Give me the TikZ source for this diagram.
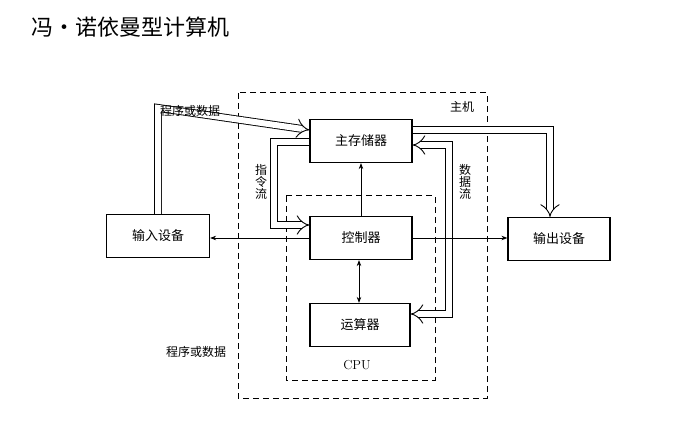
\documentclass[tikz,border=0pt]{standalone}
\usepackage{fontspec}
\newfontfamily\cjk{Noto Sans CJK SC}
\usetikzlibrary{arrows.meta}
\tikzset{
  box/.style={draw,line width=1.2pt,minimum width=102pt,minimum height=43pt,font=\cjk\fontsize{13}{13}\selectfont},
  flow/.style={draw,line width=0.9pt,double distance=6pt,-{Implies[length=6pt]}},
  thin/.style={line width=0.8pt,-{Stealth[length=6pt]}},
  frame/.style={dashed,line width=1pt,dash pattern=on 6pt off 4pt},
  lbl/.style={font=\cjk\fontsize{12}{12}\selectfont}
}
\begin{document}
\begin{tikzpicture}[x=1pt,y=-1pt]
\useasboundingbox (0,0) rectangle (696,438);

\node[anchor=west,font=\cjk\fontsize{22}{22}\selectfont] (title) at (28,27) {冯·诺依曼型计算机};

\draw[frame] (238,93) rectangle (487,398);
\draw[frame] (286,196) rectangle (435,380);
\node[lbl] (host) at (462,107) {主机};
\node[font=\fontsize{13}{13}\selectfont] (cpu) at (357,365) {CPU};

\node[box] (mem) at (361,141) {主存储器};
\node[box] (ctrl) at (361,238) {控制器};
\node[box,minimum width=100pt] (alu) at (360,325) {运算器};
\node[box,minimum width=103pt] (inp) at (158,236) {输入设备};
\node[box] (outp) at (559,239) {输出设备};

% program or data
\draw[flow] (inp.north) -- ++(0,-106) -- (mem.west |- 0,130);
\draw[flow] (mem.east |- 0,130) -- (550,130) -- (outp.north -| 550,0);
\node[lbl,anchor=south] (pd1) at (190,120) {程序或数据};
\node[lbl] (pd2) at (196,352) {程序或数据};

% instruction flow
\draw[flow] (mem.west |- 0,142) -- (274,142) -- (274,225) -- (ctrl.west |- 0,225);
\node[lbl,align=center] (ins) at (261,182) {指\\令\\流};

% data flow
\draw[flow,{Implies[length=6pt]}-{Implies[length=6pt]}] (mem.east |- 0,145) -- (449,145) -- (449,314) -- (alu.east |- 0,314);
\node[lbl,align=center] (dat) at (465,182) {数\\据\\流};

\draw[thin] (ctrl.north) -- (mem.south);
\draw[thin,{Stealth[length=6pt]}-{Stealth[length=6pt]}] (ctrl.south -| 359,0) -- (alu.north -| 359,0);
\draw[thin] (ctrl.east) -- (outp.west |- ctrl.east);
\draw[thin] (ctrl.west) -- (inp.east |- ctrl.west);
\end{tikzpicture}
\end{document}
